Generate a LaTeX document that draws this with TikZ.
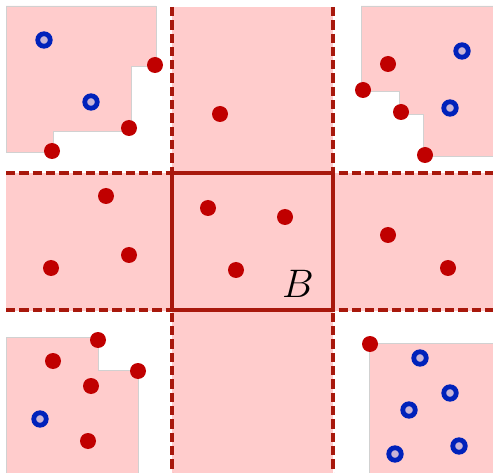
\documentclass[tikz,border=0pt]{standalone}
\usepackage{amsmath}
\usepackage{tikz}

\definecolor{zone}{HTML}{FFCCCC}
\definecolor{edge}{HTML}{A8180C}
\definecolor{ptred}{HTML}{C00000}
\definecolor{ptblue}{HTML}{0022BB}
\definecolor{ptcore}{HTML}{C8B4D6}

\tikzset{
  region/.style={fill=zone, draw=black!18, line width=0.8pt},
  cut/.style={edge, line width=4.2pt, dash pattern=on 9.3pt off 4pt},
  rdot/.style={circle, fill=ptred, inner sep=0pt, minimum size=16pt},
  bring/.style={circle, draw=ptblue, fill=ptcore, line width=4.8pt, inner sep=0pt, minimum size=12.5pt}
}

\begin{document}
\begin{tikzpicture}[x=1pt,y=-1pt]
        \useasboundingbox (0,0) rectangle (493,473);
        % strips through the box
        \fill[zone] (172,7) rectangle (333,473);
        \fill[zone] (6,173) rectangle (493,311);
        % corner regions
        \draw[region] (6,6)--(156,6)--(156,66)--(131,66)--(131,131)--(53,131)--(53,152)--(6,152)--cycle;
        \draw[region] (361,6)--(493,6)--(493,156)--(423,156)--(423,114)--(399,114)--(399,91)--(361,91)--cycle;
        \draw[region] (6,337)--(98,337)--(98,370)--(138,370)--(138,473)--(6,473)--cycle;
        \draw[region] (369,343)--(493,343)--(493,473)--(369,473)--cycle;
        % cut lines and box
        \draw[cut] (6,173)--(493,173); \draw[cut] (6,310)--(493,310);
        \draw[cut] (172,7)--(172,473); \draw[cut] (333,7)--(333,473);
        \draw[edge, line width=4.2pt] (172,173) rectangle (333,310);
        \node[font=\Huge, scale=1.6] (lblB) at (298,284) {$B$};
        % points
        \foreach \x/\y [count=\i] in {155/65, 129/128, 52/151, 220/114, 388/64, 363/90, 401/112, 425/155,
            106/196, 129/255, 51/268, 208/208, 285/217, 236/270, 388/235, 448/268,
            98/340, 138/371, 53/361, 91/386, 88/441, 370/344}
            \node[rdot] (r\i) at (\x,\y) {};
        \foreach \x/\y [count=\i] in {44/40, 91/102, 462/51, 450/108, 40/419,
            420/358, 450/393, 409/410, 395/454, 459/446}
            \node[bring] (b\i) at (\x,\y) {};
    \end{tikzpicture}
\end{document}
